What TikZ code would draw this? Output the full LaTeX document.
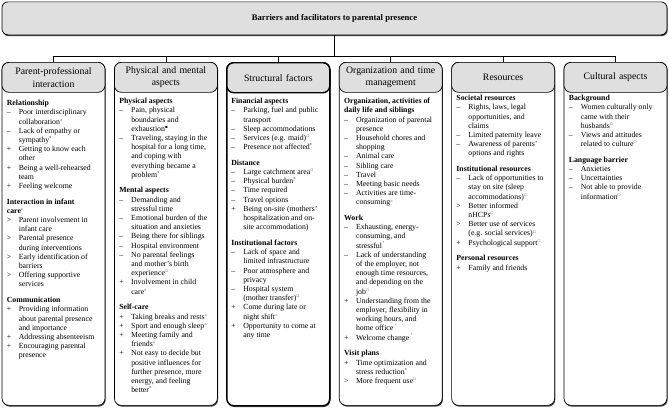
\documentclass[tikz,border=0pt]{standalone}
\usepackage{amssymb}
\usepackage{fontspec}
\setmainfont{Liberation Serif}
\usetikzlibrary{positioning,calc,shadows}

% list helpers
\newcommand{\grp}[1]{\par\noindent\textbf{#1}}
\newcommand{\itm}[2]{\par\noindent\makebox[12pt][l]{#1}%
  \parbox[t]{84pt}{\raggedright #2\par\xdef\itmdp{\the\prevdepth}}\par\prevdepth=\itmdp\relax}
\newcommand{\secgap}{\par\vspace{6.5pt}}
\newcommand{\mkc}{\textsuperscript{\scalebox{0.7}{$\circ$}}}
\newcommand{\mks}{\textsuperscript{\scalebox{0.5}{$\square$}}}
\newcommand{\mkb}{\textsuperscript{\scalebox{0.45}{$\blacksquare$}}}
\newcommand{\mka}{\textsuperscript{\scalebox{0.8}{*}}}
\newcommand{\mkf}{\textsuperscript{\,\textquoteright}}

\tikzset{
  shade/.style={drop shadow={shadow xshift=0.7pt,shadow yshift=-1.3pt,fill=black!75,opacity=1}},
  titlebox/.style={draw,line width=0.7pt,rounded corners=6pt,fill=gray!25,shade,
    minimum width=665pt,minimum height=33pt,anchor=north,
    font=\fontsize{8.6}{10}\selectfont\bfseries},
  colbox/.style={draw,line width=0.7pt,rounded corners=7pt,fill=white,shade,
    minimum width=103pt,minimum height=343pt,anchor=north},
  colhead/.style={draw,line width=0.7pt,rounded corners=7pt,fill=gray!25,
    minimum width=103pt,minimum height=30pt,anchor=north,text width=96pt,align=center,
    font=\fontsize{9.8}{12.5}\selectfont},
  coltext/.style={anchor=north west,inner sep=0pt,
    font=\fontsize{7.8}{9.2}\selectfont,
    execute at begin node={\begin{minipage}{96pt}\raggedright},
    execute at end node={\end{minipage}}},
}

\begin{document}
\begin{tikzpicture}[x=1pt,y=-1pt]
  \useasboundingbox (0,0) rectangle (669,410);
  % Title
  \node[titlebox] (title) at (334.5,1.5) {Barriers and facilitators to parental presence};

  % Column frames
  \node[colbox] (col1) at (53.5,62) {};
  \node[colbox] (col2) at (165.9,62) {};
  \node[colbox,line width=1.4pt] (col3) at (278.3,62) {};
  \node[colbox] (col4) at (390.7,62) {};
  \node[colbox] (col5) at (503.1,62) {};
  \node[colbox] (col6) at (615.5,62) {};

  % Column heads
  \node[colhead] (hd1) at (col1.north) {Parent-professional\\interaction};
  \node[colhead] (hd2) at (col2.north) {Physical and mental\\aspects};
  \node[colhead,line width=1.4pt] (hd3) at (col3.north) {Structural factors};
  \node[colhead] (hd4) at (col4.north) {Organization and time\\management};
  \node[colhead] (hd5) at (col5.north) {Resources};
  \node[colhead] (hd6) at (col6.north) {Cultural aspects};

  % Connectors
  \coordinate (bar) at ($(title.south)+(0,21.5)$);
  \draw[line width=0.6pt] (title.south) -- (bar);
  \draw[line width=0.6pt] (hd1.north) |- (bar) -| (hd6.north);
  \foreach \i in {2,...,5}
    \draw[line width=0.6pt] (hd\i.north) -- (hd\i.north |- bar);

  % Parent-professional interaction
  \node[coltext] (tx1) at ($(col1.north west)+(5,38)$) {%
    \grp{Relationship}
    \itm{\textendash}{Poor interdisciplinary\\collaboration\mkc}
    \itm{\textendash}{Lack of empathy or\\sympathy\mka}
    \itm{+}{Getting to know each\\other}
    \itm{+}{Being a well-rehearsed\\team}
    \itm{+}{Feeling welcome}
    \secgap
    \grp{Interaction in infant\\care\mkc}
    \itm{>}{Parent involvement in\\infant care}
    \itm{>}{Parental presence\\during interventions}
    \itm{>}{Early identification of\\barriers}
    \itm{>}{Offering supportive\\services}
    \secgap
    \grp{Communication}
    \itm{+}{Providing information\\about parental presence\\and importance}
    \itm{+}{Addressing absenteeism}
    \itm{+}{Encouraging parental\\presence}};

  % Physical and mental aspects
  \node[coltext] (tx2) at ($(col2.north west)+(5,36)$) {%
    \grp{Physical aspects}
    \itm{\textendash}{Pain, physical\\boundaries and\\exhaustion\mkb}
    \itm{\textendash}{Traveling, staying in the\\hospital for a long time,\\and coping with\\everything became a\\problem\mka}
    \secgap
    \grp{Mental aspects}
    \itm{\textendash}{Demanding and\\stressful time}
    \itm{\textendash}{Emotional burden of the\\situation and anxieties}
    \itm{\textendash}{Being there for siblings}
    \itm{\textendash}{Hospital environment}
    \itm{\textendash}{No parental feelings\\and mother's birth\\experience\mks}
    \itm{+}{Involvement in child\\care\mkc}
    \secgap
    \grp{Self-care}
    \itm{+}{Taking breaks and rests\mkc}
    \itm{+}{Sport and enough sleep\mkc}
    \itm{+}{Meeting family and\\friends\mkc}
    \itm{+}{Not easy to decide but\\positive influences for\\further presence, more\\energy, and feeling\\better\mka}};

  % Structural factors
  \node[coltext] (tx3) at ($(col3.north west)+(5,36)$) {%
    \grp{Financial aspects}
    \itm{\textendash}{Parking, fuel and public\\transport}
    \itm{\textendash}{Sleep accommodations}
    \itm{\textendash}{Services (e.g. maid)\mks}
    \itm{\textendash}{Presence not affected\mka}
    \secgap
    \grp{Distance}
    \itm{\textendash}{Large catchment area\mks}
    \itm{\textendash}{Physical burden\mka}
    \itm{\textendash}{Time required}
    \itm{\textendash}{Travel options}
    \itm{+}{Being on-site (mothers'\\hospitalization and on-\\site accommodation)}
    \secgap
    \grp{Institutional factors}
    \itm{\textendash}{Lack of space and\\limited infrastructure}
    \itm{\textendash}{Poor atmosphere and\\privacy}
    \itm{\textendash}{Hospital system\\(mother transfer)\mks}
    \itm{+}{Come during late or\\night shift\mkc}
    \itm{+}{Opportunity to come at\\any time}};

  % Organization and time management
  \node[coltext] (tx4) at ($(col4.north west)+(5,36)$) {%
    \grp{Organization, activities of\\daily life and siblings}
    \itm{\textendash}{Organization of parental\\presence}
    \itm{\textendash}{Household chores and\\shopping}
    \itm{\textendash}{Animal care}
    \itm{\textendash}{Sibling care}
    \itm{\textendash}{Travel}
    \itm{\textendash}{Meeting basic needs}
    \itm{\textendash}{Activities are time-\\consuming\mkc}
    \secgap
    \grp{Work}
    \itm{\textendash}{Exhausting, energy-\\consuming, and\\stressful\mkf}
    \itm{\textendash}{Lack of understanding\\of the employer, not\\enough time resources,\\and depending on the\\job\mks}
    \itm{+}{Understanding from the\\employer, flexibility in\\working hours, and\\home office\mkf}
    \itm{+}{Welcome change\mkf}
    \secgap
    \grp{Visit plans}
    \itm{+}{Time optimization and\\stress reduction\mka}
    \itm{>}{More frequent use\mks}};

  % Resources
  \node[coltext] (tx5) at ($(col5.north west)+(5,33)$) {%
    \grp{Societal resources}
    \itm{\textendash}{Rights, laws, legal\\opportunities, and\\claims}
    \itm{\textendash}{Limited paternity leave}
    \itm{\textendash}{Awareness of parents'\\options and rights}
    \secgap
    \grp{Institutional resources}
    \itm{\textendash}{Lack of opportunities to\\stay on site (sleep\\accommodations)\mks}
    \itm{>}{Better informed\\nHCPs\mks}
    \itm{>}{Better use of services\\(e.g. social services)\mks}
    \itm{+}{Psychological support\mks}
    \secgap
    \grp{Personal resources}
    \itm{+}{Family and friends}};

  % Cultural aspects
  \node[coltext] (tx6) at ($(col6.north west)+(5,33)$) {%
    \grp{Background}
    \itm{\textendash}{Women culturally only\\came with their\\husbands\mks}
    \itm{\textendash}{Views and attitudes\\related to culture\mks}
    \secgap
    \grp{Language barrier}
    \itm{\textendash}{Anxieties}
    \itm{\textendash}{Uncertainties}
    \itm{\textendash}{Not able to provide\\information\mks}};
\end{tikzpicture}
\end{document}
